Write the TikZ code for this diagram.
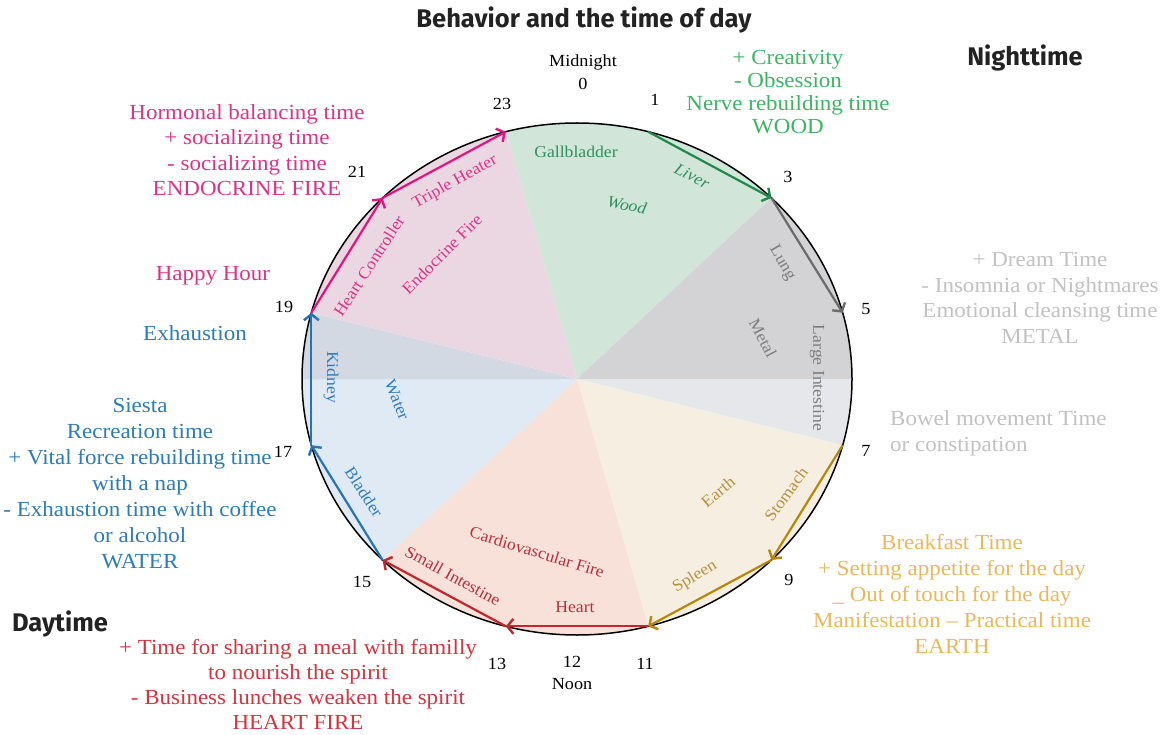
\documentclass[tikz,border=0pt]{standalone}
\usepackage{fontspec}
\setmainfont{Liberation Serif}[FakeStretch=1.07]
\newfontfamily\titlefont{Fira Sans}
\usetikzlibrary{arrows.meta}
\definecolor{titlegray}{HTML}{222222}
\definecolor{wgreen}{HTML}{D1E5D8}
\definecolor{wgreyd}{HTML}{D3D3D6}
\definecolor{wgreyl}{HTML}{E6E7EA}
\definecolor{wbeige}{HTML}{F6EFE1}
\definecolor{wpeach}{HTML}{F7E1D8}
\definecolor{wblue}{HTML}{E0EAF5}
\definecolor{wbluegrey}{HTML}{D3D9E3}
\definecolor{wpink}{HTML}{EBD7E2}
\definecolor{pinkline}{HTML}{E0167F}
\definecolor{pinktext}{HTML}{D9338A}
\definecolor{greenline}{HTML}{1F8A4C}
\definecolor{greentext}{HTML}{3CB563}
\definecolor{greenlab}{HTML}{2E9060}
\definecolor{greyline}{HTML}{6B6B6B}
\definecolor{greytext}{HTML}{C2C2C2}
\definecolor{greylab}{HTML}{7D7D7D}
\definecolor{goldline}{HTML}{B8860B}
\definecolor{goldtext}{HTML}{EAB85C}
\definecolor{goldlab}{HTML}{B8913F}
\definecolor{redline}{HTML}{C1272D}
\definecolor{redtext}{HTML}{D4343E}
\definecolor{redlab}{HTML}{B8303F}
\definecolor{blueline}{HTML}{2673B5}
\definecolor{bluetext}{HTML}{2B7CB9}
\definecolor{bluelab}{HTML}{2F7CC0}
\newcommand\pieslice[3]{\fill[#1] (C) -- ({577+275*cos(#2)},{-379+256*sin(#2)}) arc[start angle=#2, end angle=#3, x radius=275pt, y radius=256pt] -- cycle;}
\begin{document}
\begin{tikzpicture}[x=1pt,y=1pt,
  side/.style={align=center, inner sep=0pt, font=\fontsize{21.5}{25.5}\selectfont},
  hour/.style={inner sep=0pt, text=black, font=\fontsize{17}{21}\selectfont},
  lab/.style={inner sep=0pt, font=\fontsize{16.5}{18}\selectfont},
  chord/.style={line width=2.2pt, -{Straight Barb[length=6pt,width=15pt,line width=2.4pt]}},
  ttl/.style={inner sep=0pt, text=titlegray, font=\titlefont\bfseries\fontsize{25.5}{28}\selectfont}]
\useasboundingbox (0,0) rectangle (1162,-735);
\fill[white] (0,0) rectangle (1162,-735);
\coordinate (C) at (577,-379);
\foreach \h in {1,3,...,23} \coordinate (h\h) at ({577+275*cos(90-15*\h)},{-379+256*sin(90-15*\h)});
% wedges
\pieslice{wgreen}{105}{45}
\pieslice{wgreyd}{45}{0}
\pieslice{wgreyl}{0}{-15}
\pieslice{wbeige}{-15}{-75}
\pieslice{wpeach}{-75}{-135}
\pieslice{wblue}{-135}{-180}
\pieslice{wbluegrey}{180}{165}
\pieslice{wpink}{165}{105}
% outline
\draw[line width=1.5pt] (C) ellipse [x radius=275pt, y radius=256pt];
% chords
\draw[chord, pinkline] (h19) -- (h21);
\draw[chord, pinkline] (h21) -- (h23);
\draw[chord, greenline] (h1) -- (h3);
\draw[chord, greyline] (h3) -- (h5);
\draw[chord, goldline] (h7) -- (h9);
\draw[chord, goldline] (h9) -- (h11);
\draw[chord, redline] (h11) -- (h13);
\draw[chord, redline] (h13) -- (h15);
\draw[chord, blueline] (h15) -- (h17);
\draw[chord, blueline] (h17) -- (h19);
% titles
\node[ttl] (title) at (584,-20) {Behavior and the time of day};
\node[ttl] (night) at (1025,-58) {Nighttime};
\node[ttl] (day) at (60,-624) {Daytime};
% hour labels
\node[hour] (mid) at (583,-62) {Midnight};
\node[hour] (n0) at (583,-84) {0};
\node[hour] (n1) at (655,-100) {1};
\node[hour] (n23) at (502,-104) {23};
\node[hour] (n21) at (357,-172) {21};
\node[hour] (n3) at (788,-177) {3};
\node[hour] (n5) at (866,-309) {5};
\node[hour] (n19) at (284,-307) {19};
\node[hour] (n17) at (283,-452) {17};
\node[hour] (n7) at (866,-451) {7};
\node[hour] (n15) at (362,-582) {15};
\node[hour] (n9) at (789,-580) {9};
\node[hour] (n13) at (497,-664) {13};
\node[hour] (n11) at (645,-664) {11};
\node[hour] (n12) at (572,-662) {12};
\node[hour] (noon) at (572,-684) {Noon};
% side texts
\node[side, text=pinktext] (tpink) at (247,-150) {Hormonal balancing time\\+ socializing time\\- socializing time\\ENDOCRINE FIRE};
\node[side, text=pinktext] (thappy) at (213,-276) {Happy Hour};
\node[side, text=bluetext] (texh) at (195,-333) {Exhaustion};
\node[side, text=bluetext, font=\fontsize{21.5}{26}\selectfont] (tblue) at (140,-483.5) {Siesta\\Recreation time\\+ Vital force rebuilding time\\with a nap\\- Exhaustion time with coffee\\or alcohol\\WATER};
\node[side, text=redtext, font=\fontsize{21.5}{25}\selectfont] (tred) at (298,-684.5) {+ Time for sharing a meal with familly\\to nourish the spirit\\- Business lunches weaken the spirit\\HEART FIRE};
\node[side, text=greentext, font=\fontsize{21.5}{23.3}\selectfont] (tgreen) at (788,-92) {+ Creativity\\- Obsession\\Nerve rebuilding time\\WOOD};
\node[side, text=greytext] (tgrey) at (1040,-298) {+ Dream Time\\- Insomnia or Nightmares\\Emotional cleansing time\\METAL};
\node[side, text=greytext, align=left, anchor=west] (tbowel) at (890,-433.5) {Bowel movement Time\\or constipation};
\node[side, text=goldtext, font=\fontsize{21.5}{26}\selectfont] (tgold) at (952,-594) {Breakfast Time\\+ Setting appetite for the day\\\_ Out of touch for the day\\Manifestation -- Practical time\\EARTH};
% inside labels
\node[lab, text=greenlab] (lgall) at (576,-152) {Gallbladder};
\node[lab, text=greenlab, rotate=-28] (lliver) at (692,-176) {\itshape Liver};
\node[lab, text=greenlab, rotate=-12] (lwood) at (627,-205) {\itshape Wood};
\node[lab, text=pinktext, rotate=29] (ltriple) at (455,-182) {Triple Heater};
\node[lab, text=pinktext, rotate=45] (lendo) at (442,-254) {Endocrine Fire};
\node[lab, text=pinktext, rotate=57] (lheartc) at (369,-266) {Heart Controller};
\node[lab, text=greylab, rotate=-60] (llung) at (782,-263) {Lung};
\node[lab, text=greylab, rotate=-62] (lmetal) at (763,-338) {Metal};
\node[lab, text=greylab, rotate=-90] (llarge) at (817,-378) {Large Intestine};
\node[lab, text=bluelab, rotate=-90] (lkid) at (331,-377) {Kidney};
\node[lab, text=bluelab, rotate=-68] (lwater) at (397,-400) {Water};
\node[lab, text=bluelab, rotate=-57] (lblad) at (364,-492) {Bladder};
\node[lab, text=redlab, rotate=-29] (lsmall) at (453,-576) {Small Intestine};
\node[lab, text=redlab, rotate=-17] (lcardio) at (537,-552) {Cardiovascular Fire};
\node[lab, text=redlab] (lheart) at (575,-607) {Heart};
\node[lab, text=goldlab, rotate=31] (lspleen) at (695,-577) {Spleen};
\node[lab, text=goldlab, rotate=40] (learth) at (718,-492) {Earth};
\node[lab, text=goldlab, rotate=54] (lstom) at (786,-494) {Stomach};
\end{tikzpicture}
\end{document}
